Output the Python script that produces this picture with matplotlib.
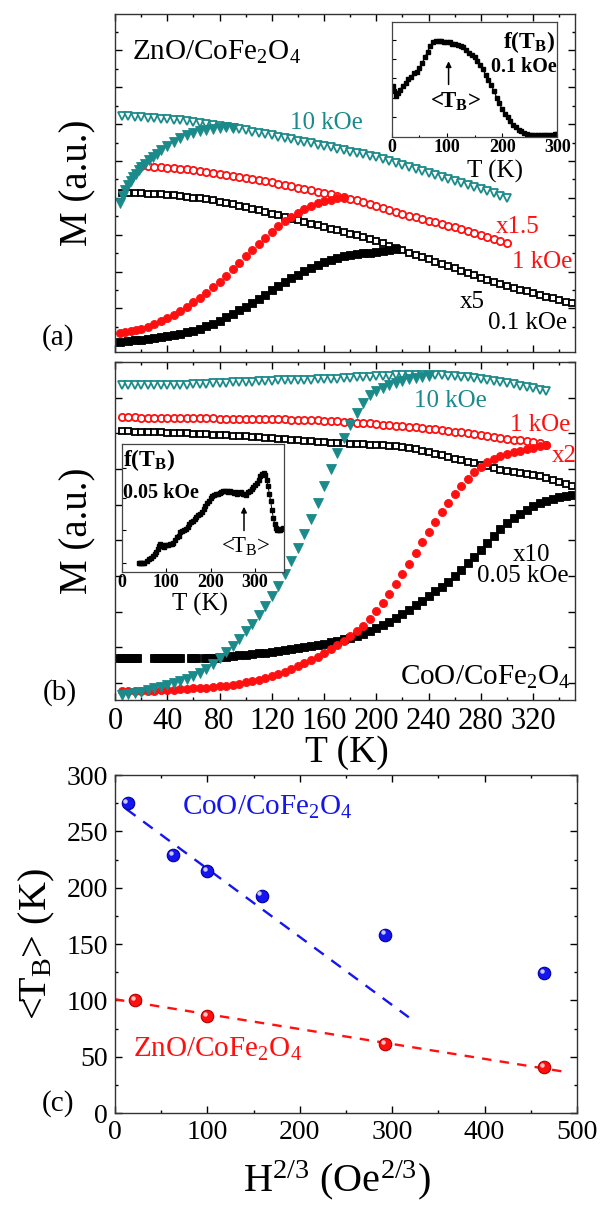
import numpy as np
import matplotlib.pyplot as plt
from matplotlib.ticker import MultipleLocator, FixedLocator
from matplotlib.transforms import offset_copy

plt.rcParams['font.family'] = ['Liberation Serif', 'DejaVu Serif']
plt.rcParams['mathtext.fontset'] = 'custom'
plt.rcParams['mathtext.rm'] = 'Liberation Serif'
plt.rcParams['mathtext.it'] = 'Liberation Serif:italic'
plt.rcParams['mathtext.bf'] = 'Liberation Serif:bold'
plt.rcParams['mathtext.default'] = 'regular'

TEAL = '#1b8a8a'
RED = '#ff1010'
BLUE = '#1515f0'

# temperature steps of the M(T) sweeps (K)
temps = [5, 10, 15, 20, 25, 30, 35, 40, 45, 50, 55, 60, 65, 70, 75, 80, 85, 90, 95, 100,
         105, 110, 115, 120, 125, 130, 135, 140, 145, 150, 155, 160, 165, 170, 175, 180,
         185, 190, 195, 200, 205, 210, 215, 220, 225, 230, 235, 240, 245, 250, 255, 260,
         265, 270, 275, 280, 285, 290, 295, 300, 305, 310, 315, 320, 325, 330, 335, 340,
         345, 350]

# ---- (a) ZnO/CoFe2O4, M in a.u. (0..1 of panel height)
a_fc_10k = [.698, .697, .696, .695, .693, .691, .690, .688, .686, .685,
            .682, .679, .677, .674, .671, .668, .665, .662, .659, .656,
            .652, .648, .645, .641, .637, .633, .629, .625, .621, .617,
            .613, .609, .605, .601, .597, .593, .589, .585, .580, .576,
            .570, .564, .558, .552, .546, .540, .535, .529, .523, .518,
            .512, .506, .500, .494, .488, .482, .476, .469, .462, .455]
a_zfc_10k_t = [4, 6, 8, 10, 12, 14, 16, 18, 20, 23, 26, 29, 32, 35, 40, 45, 50, 55, 60,
               65, 70, 75, 80, 85, 90]
a_zfc_10k = [.440, .460, .478, .494, .506, .518, .528, .537, .546, .557, .567, .577, .587,
             .597, .610, .622, .633, .642, .649, .654, .657, .660, .663, .665, .662]
a_fc_1k = [.551, .549, .548, .546, .545, .543, .542, .540, .538, .536,
           .533, .531, .528, .525, .521, .518, .515, .512, .508, .505,
           .502, .498, .494, .490, .486, .482, .478, .474, .470, .466,
           .462, .458, .454, .449, .444, .438, .432, .426, .420, .414,
           .408, .403, .398, .393, .388, .384, .379, .374, .369, .363,
           .358, .352, .346, .340, .334, .328, .322]
a_zfc_1k_t = [4, 8, 12, 16] + temps[3:35]
a_zfc_1k = [.055, .058, .061, .064, .068, .074, .082, .091, .100, .110, .122, .134,
            .147, .160, .175, .191, .208, .226, .245, .264, .283, .302, .320, .338,
            .356, .372, .387, .400, .412, .423, .432, .440, .446, .451, .455, .457]
a_fc_01k = [.469, .469, .469, .469, .468, .467, .466, .465, .464, .462,
            .459, .457, .455, .452, .449, .445, .441, .437, .433, .429,
            .424, .419, .414, .409, .404, .399, .394, .390, .385, .380,
            .375, .370, .365, .360, .355, .350, .345, .340, .334, .328,
            .321, .315, .308, .301, .294, .287, .280, .274, .267, .260,
            .254, .247, .241, .234, .227, .220, .214, .207, .200, .194,
            .189, .184, .179, .174, .169, .164, .159, .154, .149, .144]
a_zfc_01k_t = [4] + temps[1:43]
a_zfc_01k = [.031, .033, .034, .036, .038, .040, .043, .046, .049, .053, .058, .063,
             .069, .076, .084, .093, .103, .113, .123, .134, .146, .158, .170, .183,
             .195, .207, .218, .229, .239, .249, .258, .266, .273, .279, .284, .287,
             .290, .292, .294, .296, .299, .302, .305]

# ---- (b) CoO/CoFe2O4
b_fc_10k = [.933, .932, .932, .931, .931, .931, .931, .931, .931, .932,
            .933, .934, .935, .936, .937, .938, .939, .940, .941, .941,
            .942, .943, .944, .945, .946, .946, .947, .947, .948, .948,
            .949, .950, .950, .951, .952, .953, .955, .956, .957, .958,
            .959, .960, .961, .962, .962, .962, .962, .962, .961, .961,
            .960, .958, .957, .955, .953, .950, .947, .944, .941, .938,
            .934, .930, .926, .922, .918, .913]
b_zfc_10k = [.016, .018, .021, .025, .029, .034, .039, .044, .049, .055,
             .062, .070, .080, .092, .107, .123, .141, .160, .181, .203,
             .226, .251, .279, .308, .338, .373, .410, .450, .492, .536,
             .584, .634, .684, .732, .776, .815, .850, .880, .902, .915,
             .924, .931, .938, .944, .949, .953, .957, .960]
b_fc_1k = [.836, .836, .836, .835, .835, .835, .834, .834, .834, .834,
           .833, .833, .833, .833, .833, .832, .832, .832, .832, .832,
           .831, .831, .831, .830, .830, .830, .829, .829, .829, .828,
           .827, .826, .825, .824, .823, .822, .820, .819, .818, .816,
           .815, .813, .812, .810, .809, .807, .805, .803, .801, .799,
           .797, .794, .792, .789, .787, .784, .781, .779, .776, .773,
           .770, .768, .765, .763, .760, .755]
b_zfc_1k = [.026, .026, .026, .027, .027, .028, .029, .030, .031, .032,
            .033, .034, .035, .036, .038, .040, .042, .045, .048, .052,
            .056, .060, .065, .071, .077, .084, .092, .100, .108, .117,
            .127, .138, .150, .162, .175, .189, .204, .220, .240, .262,
            .287, .314, .342, .372, .403, .434, .466, .497, .527, .556,
            .584, .610, .634, .655, .674, .690, .703, .713, .721, .727,
            .733, .738, .742, .746, .750, .755]
b_fc_005k = [.795, .795, .794, .794, .793, .793, .792, .791, .790, .790,
             .789, .788, .787, .786, .785, .784, .783, .782, .781, .780,
             .778, .777, .775, .774, .772, .771, .769, .768, .766, .765,
             .764, .762, .761, .760, .759, .758, .757, .756, .755, .754,
             .753, .752, .750, .748, .746, .742, .738, .734, .729, .724,
             .719, .714, .709, .705, .700, .696, .691, .686, .681, .677,
             .674, .671, .668, .665, .662, .657, .651, .644, .638, .632]
b_zfc_005k_t = [3, 5, 7, 9, 11, 13, 15, 17, 30, 32, 34, 36, 38, 40, 42, 44, 46, 48, 50,
                58, 60, 62, 69, 71, 73, 75, 77] + temps[15:]
b_zfc_005k = [.124, .124, .124, .124, .124, .124, .124, .124,
              .124, .124, .124, .124, .124, .124, .124, .124, .124, .124, .124,
              .124, .124, .124,
              .125, .125, .125, .125, .125,
              .127, .128, .130, .132, .134, .136, .138, .140, .142, .144,
              .147, .150, .153, .156, .159, .163, .167, .171, .175, .179,
              .184, .189, .196, .203, .212, .221, .231, .242, .254, .267,
              .280, .294, .308, .322, .335, .350, .368, .386, .404, .423,
              .443, .464, .485, .505, .523, .538, .551, .562, .573, .582,
              .589, .595, .600, .604, .607]

# ---- insets: f(T_B) distributions
ins_a_t = [2, 5, 8, 11, 15] + temps[3:60]
ins_a_f = [.44, .40, .35, .38, .41, .44, .47, .50, .52, .55, .56, .60, .64, .69, .74,
           .79, .82, .835, .83, .835, .825, .825, .82, .81, .805, .795, .785, .78, .755,
           .73, .71, .69, .66, .625, .585, .54, .495, .45, .40, .34, .29, .24, .20, .17,
           .135, .105, .085, .06, .045, .032, .023, .018, .015, .014, .014, .014, .014,
           .014, .015, .017, .02, .023]
tb_mean_a = 103

ins_b_t = [38, 41, 44, 47, 50, 56, 62, 66, 70, 74, 78, 81, 84, 87, 90, 93, 96,
           100, 104, 108, 112, 116, 120, 124, 128, 132, 136, 140, 144, 148, 152, 156,
           160, 164, 168, 172, 176, 180, 184, 188, 192, 196, 200, 204, 208, 212, 216,
           220, 224, 228, 232, 236, 240, 244, 248, 252, 256, 260, 264, 268, 272, 276,
           280, 284, 288, 292, 296, 300, 304, 308, 312, 316, 320,
           323, 326, 329, 332, 335, 338, 341, 344, 347, 350, 353, 356, 359, 362]
ins_b_f = [.07, .07, .07, .07, .07, .085, .10, .11, .12, .14, .155, .175, .20, .215,
           .20, .205, .19,
           .21, .205, .215, .22, .225, .25, .27, .28, .31, .32, .33, .335, .35, .37,
           .39, .40, .415, .43, .44, .455, .47, .49, .515, .535, .555, .575, .59, .60,
           .605, .61, .615, .625, .63, .635, .63, .625, .63, .62, .615, .62, .61, .615,
           .62, .61, .605, .60, .62, .63, .645, .66, .68, .695, .72, .745, .765, .775,
           .76, .72, .67, .61, .55, .48, .42, .37, .34, .33, .325, .33, .335, .34]
tb_mean_b = 275

# ---- (c) mean blocking temperature vs H^(2/3)
h_coo = [13.6, 63.0, 100.0, 158.7, 292.4, 464.2]
tb_coo = [275, 229, 214.5, 193, 158.3, 124.3]
h_zno = [21.5, 100.0, 292.4, 464.2]
tb_zno = [100, 85.8, 61.3, 40.8]
coo_fit_h = [12, 318]
coo_fit_tb = [270, 85]
zno_fit_h = [0, 490]
zno_fit_tb = [101, 36.2]


def style(ax, major=5, minor=2.5):
    ax.tick_params(which='both', direction='in', top=True, right=True, width=1)
    ax.tick_params(which='major', length=major)
    ax.tick_params(which='minor', length=minor)
    for s in ax.spines.values():
        s.set_linewidth(1.0)
        s.set_color('#333333')


def sweeps(ax, t_fc, fc, t_zfc, zfc, marker, color, ms):
    ax.plot(t_fc, fc, marker, ls='none', ms=ms, mfc='white', mec=color, mew=1.3)
    ax.plot(t_zfc, zfc, marker, ls='none', ms=ms + 0.6, mfc=color, mec=color, mew=0.6)


fig = plt.figure(figsize=(6.02, 12.05), dpi=100)

# ================= (a)
ax_a = fig.add_axes([0.1910, 0.7079, 0.7641, 0.2805])
sweeps(ax_a, temps[:70], a_fc_01k, a_zfc_01k_t, a_zfc_01k, 's', 'black', 5.0)
sweeps(ax_a, temps[3:60], a_fc_1k, a_zfc_1k_t, a_zfc_1k, 'o', RED, 5.2)
sweeps(ax_a, temps[:60], a_fc_10k, a_zfc_10k_t, a_zfc_10k, 'v', TEAL, 6.3)
ax_a.set_xlim(0, 352)
ax_a.set_ylim(0, 1)
ax_a.xaxis.set_major_locator(MultipleLocator(40))
ax_a.xaxis.set_minor_locator(MultipleLocator(20))
ax_a.yaxis.set_major_locator(FixedLocator(np.arange(0.129, 1.01, 0.109)))
ax_a.yaxis.set_minor_locator(FixedLocator(np.arange(0.0745, 1.0, 0.109)))
style(ax_a)
ax_a.tick_params(labelbottom=False, labelleft=False)
ax_a.set_ylabel('M (a.u.)', fontsize=28)
ax_a.yaxis.set_label_coords(-0.041, 0.5)

ax_a.text(12.7, 0.864, 'ZnO/CoFe$_2$O$_4$', fontsize=21, va='baseline')
ax_a.text(161.6, 0.677, '10 kOe', color=TEAL, fontsize=18, ha='center', va='center')
ax_a.text(308, 0.371, 'x1.5', color=RED, fontsize=18, ha='center', va='center')
ax_a.text(349.7, 0.267, '1 kOe', color=RED, fontsize=18, ha='right', va='center')
ax_a.text(273.5, 0.149, 'x5', fontsize=18, ha='center', va='center')
ax_a.text(345.9, 0.085, '0.1 kOe', fontsize=18, ha='right', va='center')
fig.text(0.097, 0.7195, '(a)', fontsize=21, ha='center', va='center')

ins_a = fig.add_axes([0.6507, 0.8866, 0.2751, 0.0954])
ins_a.plot(ins_a_t, ins_a_f, '-s', color='black', ms=2.2, lw=0.8)
ins_a.set_xlim(0, 300)
ins_a.set_ylim(0, 1)
ins_a.set_xticks([0, 100, 200, 300])
ins_a.set_xticklabels(['0', '100', '200', '300'], fontsize=13, fontweight='bold')
ins_a.xaxis.set_minor_locator(MultipleLocator(50))
ins_a.yaxis.set_major_locator(FixedLocator([0.174, 0.34, 0.507, 0.673, 0.84]))
ins_a.tick_params(which='both', direction='in', length=3, width=0.8, pad=2, labelleft=False)
ins_a.tick_params(which='minor', length=1.5)
for s in ins_a.spines.values():
    s.set_linewidth(0.9)
    s.set_color('#444444')
ins_a.set_xlabel('T (K)', fontsize=18)
ins_a.xaxis.set_label_coords(0.624, -0.2)
ins_a.text(0.986, 0.826, 'f(T$_B$)', transform=ins_a.transAxes, fontsize=17,
           fontweight='bold', ha='right', va='center')
ins_a.text(0.998, 0.609, '0.1 kOe', transform=ins_a.transAxes, fontsize=14.5,
           fontweight='bold', ha='right', va='center')
ins_a.annotate('', xy=(tb_mean_a, 0.68), xytext=(tb_mean_a, 0.43),
               arrowprops=dict(arrowstyle='-|>', color='black', lw=1.1, mutation_scale=8))
ins_a.text(115, 0.30, '<T$_B$>', fontsize=16.5, fontweight='bold', ha='center', va='center')

# ================= (b)
ax_b = fig.add_axes([0.1910, 0.4191, 0.7641, 0.2805])
sweeps(ax_b, temps, b_fc_005k, b_zfc_005k_t, b_zfc_005k, 's', 'black', 5.0)
sweeps(ax_b, temps[:66], b_fc_1k, temps[:66], b_zfc_1k, 'o', RED, 5.2)
sweeps(ax_b, temps[:66], b_fc_10k, temps[:48], b_zfc_10k, 'v', TEAL, 6.3)
ax_b.set_xlim(0, 352)
ax_b.set_ylim(0, 1)
ax_b.xaxis.set_major_locator(MultipleLocator(40))
ax_b.xaxis.set_minor_locator(MultipleLocator(20))
ax_b.yaxis.set_major_locator(FixedLocator(np.arange(0.05, 1.0, 0.1055)))
style(ax_b)
ax_b.tick_params(labelleft=False, labelsize=22, pad=5)
ax_b.set_ylabel('M (a.u.)', fontsize=28)
ax_b.yaxis.set_label_coords(-0.041, 0.5)
ax_b.set_xlabel('T (K)', fontsize=27)
ax_b.xaxis.set_label_coords(0.504, -0.105)

ax_b.text(256.5, 0.884, '10 kOe', color=TEAL, fontsize=18, ha='center', va='center')
ax_b.text(348.4, 0.815, '1 kOe', color=RED, fontsize=18, ha='right', va='center')
ax_b.text(343.5, 0.721, 'x2', color=RED, fontsize=18, ha='center', va='center')
ax_b.text(318.4, 0.430, 'x10', fontsize=18, ha='center', va='center')
ax_b.text(347, 0.366, '0.05 kOe', fontsize=18, ha='right', va='center')
ax_b.text(348.4, 0.045, 'CoO/CoFe$_2$O$_4$', fontsize=21, ha='right', va='baseline')
fig.text(0.099, 0.4257, '(b)', fontsize=21, ha='center', va='center')

ins_b = fig.add_axes([0.2022, 0.5256, 0.2696, 0.1060])
ins_b.plot(ins_b_t, ins_b_f, '-s', color='black', ms=2.2, lw=0.7)
ins_b.set_xlim(0, 365)
ins_b.set_ylim(0, 1)
ins_b.set_xticks([0, 100, 200, 300])
ins_b.set_xticklabels(['0', '100', '200', '300'], fontsize=13, fontweight='bold')
ins_b.yaxis.set_major_locator(FixedLocator([0.065, 0.33, 0.58, 0.81]))
ins_b.tick_params(which='both', direction='in', length=3, width=0.8, pad=2, labelleft=False)
for s in ins_b.spines.values():
    s.set_linewidth(0.9)
    s.set_color('#444444')
ins_b.set_xlabel('T (K)', fontsize=18)
ins_b.xaxis.set_label_coords(0.482, -0.17)
ins_b.text(0.01, 0.875, 'f(T$_B$)', transform=ins_b.transAxes, fontsize=17,
           fontweight='bold', ha='left', va='center')
ins_b.text(0.01, 0.616, '0.05 kOe', transform=ins_b.transAxes, fontsize=14.5,
           fontweight='bold', ha='left', va='center')
ins_b.annotate('', xy=(tb_mean_b, 0.53), xytext=(tb_mean_b, 0.30),
               arrowprops=dict(arrowstyle='-|>', color='black', lw=1.1, mutation_scale=8))
ins_b.text(279, 0.196, '<T$_B$>', fontsize=16.5, ha='center', va='center')

# ================= (c)
ax_c = fig.add_axes([0.1910, 0.0763, 0.7674, 0.2805])
ax_c.plot(coo_fit_h, coo_fit_tb, color=BLUE, lw=1.7, dashes=(5, 4))
ax_c.plot(zno_fit_h, zno_fit_tb, color=RED, lw=1.7, dashes=(4, 3.5))
ax_c.plot(h_coo, tb_coo, 'o', ms=9, mfc=BLUE, mec='#0000a0', mew=0.8, zorder=3)
ax_c.plot(h_zno, tb_zno, 'o', ms=9, mfc=RED, mec='#b00000', mew=0.8, zorder=3)
shine = offset_copy(ax_c.transData, fig=fig, x=-1.6, y=1.6, units='points')
ax_c.plot(h_coo, tb_coo, 'o', ms=3.2, mfc='#c8c8ff', mec='none', transform=shine, zorder=4)
ax_c.plot(h_zno, tb_zno, 'o', ms=3.2, mfc='#ffc8c8', mec='none', transform=shine, zorder=4)
ax_c.set_xlim(0, 500)
ax_c.set_ylim(0, 300)
ax_c.xaxis.set_major_locator(MultipleLocator(100))
ax_c.xaxis.set_minor_locator(MultipleLocator(50))
ax_c.yaxis.set_major_locator(MultipleLocator(50))
ax_c.yaxis.set_minor_locator(MultipleLocator(25))
style(ax_c)
ax_c.tick_params(labelsize=20, pad=5)
ax_c.set_xlabel('H$^{2/3}$ (Oe$^{2/3}$)', fontsize=29)
ax_c.xaxis.set_label_coords(0.48, -0.135)
ax_c.set_ylabel('<T$_B$> (K)', fontsize=29)
ax_c.yaxis.set_label_coords(-0.125, 0.5)
ax_c.text(72, 264.5, 'CoO/CoFe$_2$O$_4$', color=BLUE, fontsize=21, va='baseline')
ax_c.text(19.8, 50, 'ZnO/CoFe$_2$O$_4$', color=RED, fontsize=21, va='baseline')
fig.text(0.097, 0.0846, '(c)', fontsize=21, ha='center', va='center')

fig.savefig('out.png', dpi=100)
